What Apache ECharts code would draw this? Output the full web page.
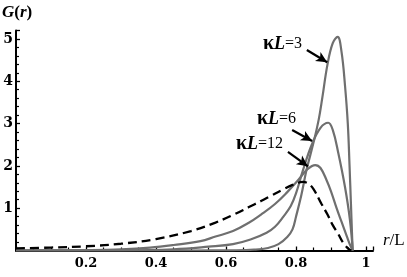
<!DOCTYPE html>
<html><head><meta charset="utf-8">
<script src="https://cdn.jsdelivr.net/npm/echarts@6/dist/echarts.min.js"></script>
<style>html,body{margin:0;padding:0;background:#fff}#c{width:407px;height:277px}</style>
</head><body><div id="c"></div><script>
// Tick values
const xTickStep = 0.2;
const yTickStep = 1;

// kappa L = 3
const k3X = [0, 0.5, 0.62, 0.68, 0.72, 0.75, 0.775, 0.79, 0.80, 0.815, 0.83, 0.85, 0.865, 0.875, 0.89, 0.905, 0.919, 0.93, 0.94, 0.948, 0.953, 0.957, 0.96, 0.962];
const k3Y = [0, 0, 0.005, 0.02, 0.06, 0.15, 0.32, 0.5, 0.8, 1.3, 1.9, 2.55, 3.1, 3.6, 4.4, 4.9, 5.05, 4.7, 3.9, 3.0, 2.0, 1.1, 0.4, 0];

// kappa L = 6
const k6X = [0, 0.3, 0.45, 0.55, 0.62, 0.67, 0.716, 0.74, 0.764, 0.785, 0.80, 0.82, 0.845, 0.87, 0.892, 0.905, 0.921, 0.94, 0.954, 0.962];
const k6Y = [0, 0.005, 0.03, 0.09, 0.15, 0.26, 0.42, 0.56, 0.8, 1.05, 1.35, 1.9, 2.5, 2.9, 3.02, 2.85, 2.3, 1.5, 0.73, 0];

// kappa L = 12
const k12X = [0, 0.1, 0.2, 0.3, 0.383, 0.45, 0.527, 0.57, 0.62, 0.664, 0.70, 0.74, 0.775, 0.807, 0.83, 0.855, 0.87, 0.888, 0.90, 0.916, 0.93, 0.945, 0.955, 0.962];
const k12Y = [0, 0.003, 0.01, 0.03, 0.07, 0.13, 0.22, 0.33, 0.46, 0.65, 0.85, 1.1, 1.38, 1.67, 1.9, 2.02, 1.95, 1.65, 1.4, 1.0, 0.68, 0.34, 0.12, 0];

// dashed reference curve
const dX = [0, 0.1, 0.2, 0.3, 0.4, 0.5, 0.57, 0.62, 0.664, 0.70, 0.73, 0.76, 0.79, 0.82, 0.835, 0.85, 0.873, 0.89, 0.905, 0.92, 0.935, 0.95, 0.958];
const dY = [0.05, 0.07, 0.1, 0.16, 0.27, 0.46, 0.66, 0.84, 1.02, 1.17, 1.3, 1.43, 1.55, 1.62, 1.58, 1.45, 1.1, 0.85, 0.6, 0.4, 0.18, 0.04, 0];

// labels
const curveLabels = ['3', '6', '12'];

function zip(xs, ys) { return xs.map((x, i) => [x, ys[i]]); }

const grey = '#6f6f6f';
const serif = '"Liberation Serif", "DejaVu Serif", serif';
const tickFont = '"DejaVu Serif", serif';

function arrow(a, b) {
  return {
    silent: true,
    symbol: ['none', 'arrow'],
    symbolSize: [8, 11],
    label: {show: false},
    lineStyle: {color: '#000', width: 2.2, type: 'solid'},
    emphasis: {disabled: true},
    data: [[{coord: a}, {coord: b}]]
  };
}

const chart = echarts.init(document.getElementById('c'), null, {renderer: 'canvas'});
const isMult = (v, s) => Math.abs(v / s - Math.round(v / s)) < 1e-6;

chart.setOption({
  animation: false,
  grid: {left: 16, top: 30.5, right: 34, bottom: 26.5, containLabel: false},
  xAxis: {
    type: 'value', min: 0, max: 1.02, interval: xTickStep,
    axisLine: {show: true, onZero: false, lineStyle: {color: '#000', width: 2}},
    axisTick: {show: true, inside: true, length: 4, lineStyle: {color: '#000', width: 1.3}},
    minorTick: {show: true, splitNumber: 4, length: 3, lineStyle: {color: '#000', width: 1.2}},
    splitLine: {show: false},
    axisLabel: {
      margin: 7, color: '#000', fontFamily: tickFont, fontWeight: 'bold', fontSize: 13,
      formatter: v => (v === 0 || !isMult(v, xTickStep)) ? '' : String(+v.toFixed(1))
    }
  },
  yAxis: {
    type: 'value', min: 0, max: 5.2, interval: yTickStep,
    axisLine: {show: true, onZero: false, lineStyle: {color: '#000', width: 2}},
    axisTick: {show: true, inside: true, length: 4, lineStyle: {color: '#000', width: 1.3}},
    minorTick: {show: true, splitNumber: 5, length: 3, lineStyle: {color: '#000', width: 1.2}},
    splitLine: {show: false},
    axisLabel: {
      margin: 3, color: '#000', fontFamily: tickFont, fontWeight: 'bold', fontSize: 14,
      formatter: v => (v === 0 || !isMult(v, yTickStep)) ? '' : String(v)
    }
  },
  series: [
    {type: 'line', data: zip(dX, dY), smooth: 0.4, showSymbol: false, z: 3,
     lineStyle: {color: '#000', width: 2.3, type: [9, 5]}},
    {type: 'line', data: zip(k12X, k12Y), smooth: 0.4, showSymbol: false, z: 2,
     lineStyle: {color: grey, width: 2.2},
     markLine: arrow([0.777, 2.33], [0.834, 1.99])},
    {type: 'line', data: zip(k6X, k6Y), smooth: 0.4, showSymbol: false, z: 2,
     lineStyle: {color: grey, width: 2.2},
     markLine: arrow([0.789, 2.85], [0.846, 2.59])},
    {type: 'line', data: zip(k3X, k3Y), smooth: 0.4, showSymbol: false, z: 2,
     lineStyle: {color: grey, width: 2.2},
     markLine: arrow([0.831, 4.74], [0.889, 4.45])}
  ],
  graphic: [
    {type: 'text', left: 2, top: 4, style: {
      text: '{i|G}{n|(}{i|r}{n|)}', fill: '#000',
      rich: {i: {fontFamily: serif, fontStyle: 'italic', fontWeight: 'bold', fontSize: 17},
             n: {fontFamily: serif, fontWeight: 'bold', fontSize: 17}}}},
    {type: 'text', left: 383, top: 232, style: {
      text: '{i|r}{n|/L}', fill: '#000',
      rich: {i: {fontFamily: serif, fontStyle: 'italic', fontSize: 17},
             n: {fontFamily: serif, fontSize: 17}}}},
    ...[[263, 34], [257, 109], [236, 134]].map((p, i) => ({
      type: 'text', left: p[0], top: p[1], style: {
        text: '{k|κ}{l|L}{n|=' + curveLabels[i] + '}', fill: '#000',
        rich: {k: {fontFamily: serif, fontWeight: 'bold', fontSize: 20},
               l: {fontFamily: serif, fontStyle: 'italic', fontWeight: 'bold', fontSize: 18},
               n: {fontFamily: serif, fontSize: 16}}}
    }))
  ]
});
</script></body></html>
